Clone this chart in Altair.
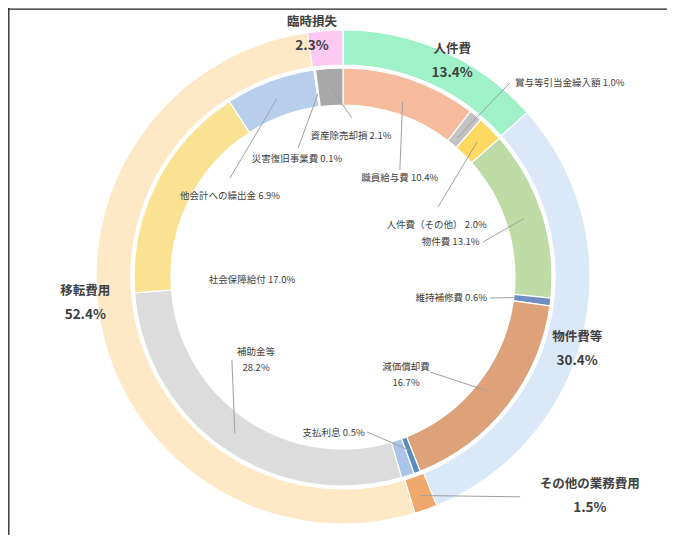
import math
import altair as alt
import pandas as pd

# ---------------- data ----------------
outer_names = ["人件費", "物件費等", "その他の業務費用", "移転費用", "臨時損失"]
outer_values = [13.4, 30.4, 1.5, 52.4, 2.3]

inner_names = ["職員給与費", "賞与等引当金繰入額", "人件費（その他）", "物件費", "維持補修費",
               "減価償却費", "支払利息", "その他", "補助金等", "社会保障給付",
               "他会計への繰出金", "災害復旧事業費", "資産除売却損"]
inner_values = [10.4, 1.0, 2.0, 13.1, 0.6, 16.7, 0.5, 1.0, 28.2, 17.0, 6.9, 0.1, 2.1]

# ---------------- styles ----------------
FONT = "Noto Sans CJK JP"
TXT = "#404040"
outer_colors = ["#9ff2c7", "#dbe8f8", "#f0a96c", "#fee8c6", "#fcc9f2"]
inner_colors = ["#f5bb9c", "#c3c3c3", "#ffd862", "#bddca6", "#6f8fc2", "#dea27a",
                "#5a8cc4", "#aac4ea", "#dcdcdc", "#fbe293", "#b7cfec", "#a6d08a", "#a9a9a9"]

# ---------------- layout ----------------
W, H = 659, 527
CX, CY = 335, 269
R_OUT, R_OUT2 = 247, 212
R_IN, R_IN2 = 209, 172

grp_label_theta = [7.45, 29.75, 36.55, 73.4, 97.98]
grp_label_r = [242, 245, 330, 259, 245]

inner_label_theta = [8.3, 11.56, 16.96, 21.0, 27.3, 40.9, 47.8, None, 62.9, 74.5, 84.9, 94.08, 0.9]
inner_label_r = [114, 259, 107, 141, 145.5, 116.5, 157.5, None, 120, 91, 139, 126.6, 141]
inner_label_align = ["center", "left", "center", "right", "right", "center", "right", None,
                     "center", "center", "center", "center", "center"]
two_line = [False, False, False, False, False, True, False, False, True, False, False, False, False]

leader_start_r = [185, 180, 190, 190, 172, 185, 185, None, 190, None, 190, 185, 190]
leader_end_theta = [7.79, 11.3, 14.9, 21.1, 27.26, 38.2, 47.55, None, 64.8, None, 86.44, 94.67, 0.9]
leader_end_r = [121, 256, 118, 144.3, 148.5, 128.8, 156.8, None, 138.6, None, 150.2, 136.6, 159.3]
outer_leader = {"idx": 2, "start_r": 232, "end_theta": 39.2, "end_r": 282.4}


def ring_table(names, values, colors):
    total = sum(values)
    rows, acc = [], 0.0
    for n, v, c in zip(names, values, colors):
        rows.append(dict(name=n, value=v, t0=acc / total * 100, t1=(acc + v) / total * 100, color=c))
        acc += v
    df = pd.DataFrame(rows)
    df["tm"] = (df["t0"] + df["t1"]) / 2
    return df


outer_df = ring_table(outer_names, outer_values, outer_colors)
inner_df = ring_table(inner_names, inner_values, inner_colors)

theta_scale = alt.Scale(domain=[0, 100], range=[0, 2 * math.pi])


def polar_xy(t, r):
    a = 2 * math.pi * t / 100
    return CX + r * math.sin(a), CY - r * math.cos(a)


def ring(df, r1, r2):
    return alt.Chart(df).mark_arc(radius=r1, radius2=r2, stroke="white", strokeWidth=1.2).encode(
        theta=alt.Theta("t0:Q", scale=theta_scale, stack=None),
        theta2="t1:Q",
        fill=alt.Fill("color:N", scale=None),
        x=alt.value(CX), y=alt.value(CY),
    )


def text_layer(df, dy=0, align="center", size=9.5, weight="normal"):
    return alt.Chart(df).mark_text(dy=dy, align=align, baseline="middle", fontSize=size,
                                   fontWeight=weight, color=TXT, font=FONT).encode(
        theta=alt.Theta("tl:Q", scale=theta_scale, stack=None),
        radius=alt.Radius("r:Q", scale=None),
        text="label:N",
        x=alt.value(CX), y=alt.value(CY),
    )


# group labels
grp_df = pd.DataFrame({
    "name": outer_names,
    "pct": [f"{v:.1f}%" for v in outer_values],
    "tl": grp_label_theta,
    "r": grp_label_r,
})
grp_names = text_layer(grp_df.assign(label=grp_df["name"]), dy=-12, size=12.5, weight="bold")
grp_pcts = text_layer(grp_df.assign(label=grp_df["pct"]), dy=12, size=13.5, weight="bold")

# inner labels
rows_single, rows_top, rows_bot = [], [], []
for i, (n, v) in enumerate(zip(inner_names, inner_values)):
    if inner_label_theta[i] is None:
        continue
    base = dict(tl=inner_label_theta[i], r=inner_label_r[i], al=inner_label_align[i])
    if two_line[i]:
        rows_top.append(dict(base, label=n))
        rows_bot.append(dict(base, label=f"{v:.1f}%"))
    else:
        rows_single.append(dict(base, label=f"{n} {v:.1f}%"))

single_df = pd.DataFrame(rows_single)
inner_text_layers = []
for al in ["center", "left", "right"]:
    sub = single_df[single_df["al"] == al]
    if len(sub):
        inner_text_layers.append(text_layer(sub, align=al))
inner_text_layers.append(text_layer(pd.DataFrame(rows_top), dy=-8))
inner_text_layers.append(text_layer(pd.DataFrame(rows_bot), dy=8))

# leader lines
lrows = []
for i in range(len(inner_names)):
    if leader_start_r[i] is None:
        continue
    x1, y1 = polar_xy(inner_df["tm"][i], leader_start_r[i])
    x2, y2 = polar_xy(leader_end_theta[i], leader_end_r[i])
    lrows.append(dict(x=x1, y=y1, x2=x2, y2=y2))
oi = outer_leader["idx"]
x1, y1 = polar_xy(outer_df["tm"][oi], outer_leader["start_r"])
x2, y2 = polar_xy(outer_leader["end_theta"], outer_leader["end_r"])
lrows.append(dict(x=x1, y=y1, x2=x2, y2=y2))
leader_df = pd.DataFrame(lrows)

leaders = alt.Chart(leader_df).mark_rule(color="#a0a0a0", strokeWidth=1).encode(
    x=alt.X("x:Q", scale=None, axis=None),
    y=alt.Y("y:Q", scale=None, axis=None),
    x2="x2:Q", y2="y2:Q",
)

frame_df = pd.DataFrame({"k": [0]})
frame_top = alt.Chart(frame_df).mark_rule(color="#222222", strokeWidth=1.3).encode(
    x=alt.value(0), x2=alt.value(W), y=alt.value(1.2))
frame_left = alt.Chart(frame_df).mark_rule(color="#222222", strokeWidth=1.3).encode(
    x=alt.value(0.8), y=alt.value(0), y2=alt.value(H))

chart = alt.layer(
    ring(outer_df, R_OUT, R_OUT2),
    ring(inner_df, R_IN, R_IN2),
    leaders,
    grp_names, grp_pcts,
    *inner_text_layers,
    frame_top, frame_left,
).properties(
    width=W, height=H, padding=0,
    autosize=alt.AutoSizeParams(type="none"),
).configure_view(stroke=None)

chart.save("out.html", embed_options={"renderer": "svg", "actions": False})
